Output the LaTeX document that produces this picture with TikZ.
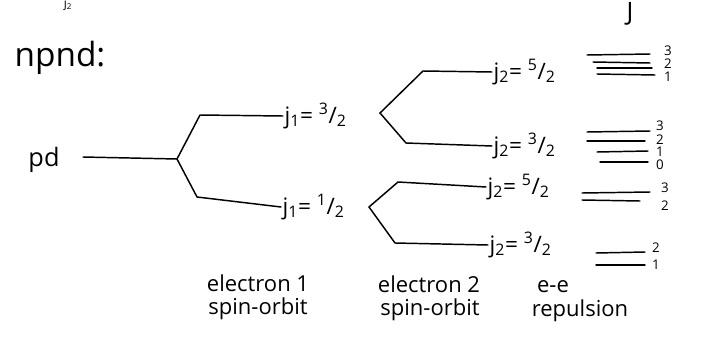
\documentclass[tikz,border=0pt]{standalone}
\usepackage{fontspec}
\setmainfont{Open Sans}
\begin{document}
\begin{tikzpicture}[x=0.75pt,y=-0.75pt,
  wire/.style={line width=1.1pt,line join=round,line cap=round},
  lvl/.style={line width=1.1pt,line cap=round},
  lab/.style={font=\fontsize{17}{19}\selectfont,inner sep=1pt,anchor=west},
  txt/.style={font=\fontsize{16.5}{18}\selectfont,inner sep=0pt},
  qn/.style={font=\fontsize{10}{10}\selectfont,inner sep=0pt}]
\useasboundingbox (0,0) rectangle (727,339);
\clip (0,0) rectangle (727,339);
% fragments at the top
\node[txt,font=\fontsize{9}{9}\selectfont] (frag) at (68,5) {j\textsubscript{2}};
\node[txt,font=\fontsize{19}{19}\selectfont] (Jlab) at (630,14) {J};
% title
\node[txt,font=\fontsize{25}{26}\selectfont] (title) at (60,58) {npnd:};
% configuration
\node[txt,font=\fontsize{19}{20}\selectfont] (pd) at (44,160) {pd};
\coordinate (s0) at (83,157);
\coordinate (f1) at (177,159);
% electron 1 spin-orbit
\node[lab] (ja) at (283,116) {j\textsubscript{1}= \textsuperscript{3}/\textsubscript{2}};
\node[lab] (jb) at (281,207) {j\textsubscript{1}= \textsuperscript{1}/\textsubscript{2}};
\draw[wire] (s0) -- (f1);
\draw[wire] (f1) -- (200,115) -- (ja.west);
\draw[wire] (f1) -- (197,197) -- (jb.west);
% electron 2 spin-orbit
\coordinate (f2) at (380,113);
\coordinate (f3) at (369,207);
\node[lab] (k1) at (492,72) {j\textsubscript{2}= \textsuperscript{5}/\textsubscript{2}};
\node[lab] (k2) at (492,146) {j\textsubscript{2}= \textsuperscript{3}/\textsubscript{2}};
\node[lab] (k3) at (486,187) {j\textsubscript{2}= \textsuperscript{5}/\textsubscript{2}};
\node[lab] (k4) at (488,245) {j\textsubscript{2}= \textsuperscript{3}/\textsubscript{2}};
\draw[wire] (f2) -- (423,71) -- (k1.west);
\draw[wire] (f2) -- (406,143) -- (k2.west);
\draw[wire] (f3) -- (398,182) -- (k3.west);
\draw[wire] (f3) -- (395,243) -- (k4.west);
% e-e repulsion levels
\draw[lvl] (587,55) -- (650,54);
\draw[lvl] (593,62) -- (650,63);
\draw[lvl] (597,68) -- (652,68);
\draw[lvl] (597,74) -- (655,75);
\node[qn] (a3) at (668,51) {3};
\node[qn] (a2) at (668,64) {2};
\node[qn] (a1) at (668,77) {1};
\draw[lvl] (587,132) -- (650,131);
\draw[lvl] (587,141) -- (645,141);
\draw[lvl] (597,152) -- (648,151);
\draw[lvl] (600,162) -- (648,162);
\node[qn] (b3) at (660,126) {3};
\node[qn] (b2) at (660,140) {2};
\node[qn] (b1) at (660,152) {1};
\node[qn] (b0) at (660,165) {0};
\draw[lvl] (582,193) -- (650,192);
\draw[lvl] (582,200) -- (640,201);
\node[qn] (c3) at (665,188) {3};
\node[qn] (c2) at (665,206) {2};
\draw[lvl] (596,253) -- (645,252);
\draw[lvl] (596,265) -- (645,265);
\node[qn] (d2) at (656,248) {2};
\node[qn] (d1) at (656,265) {1};
% captions
\node[txt] (e1) at (258,283) {electron 1};
\node[txt] (s1) at (258,309) {spin-orbit};
\node[txt] (e2) at (429,284) {electron 2};
\node[txt] (s2) at (430,310) {spin-orbit};
\node[txt] (ee) at (553,287) {e-e};
\node[txt] (rep) at (580,311) {repulsion};
\end{tikzpicture}
\end{document}
